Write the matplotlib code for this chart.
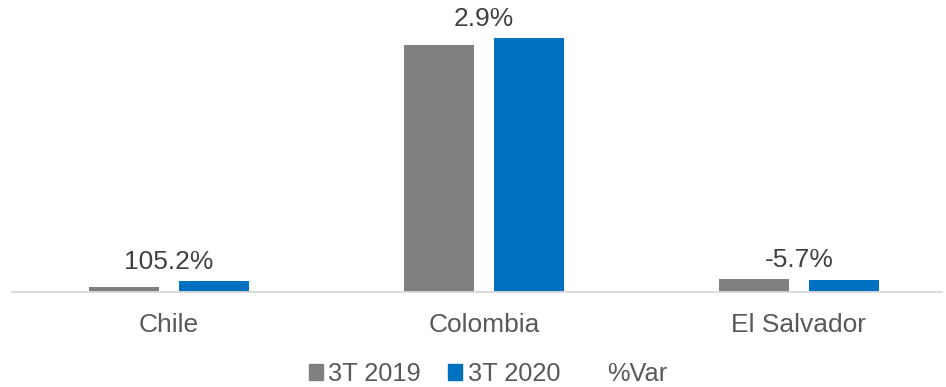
import matplotlib.pyplot as plt
from matplotlib.patches import Patch
from matplotlib.lines import Line2D
import numpy as np

plt.rcParams['font.family'] = ['Liberation Sans', 'DejaVu Sans']

countries = ["Chile", "Colombia", "El Salvador"]
q3_2019 = [5.0, 246.5, 12.4]
q3_2020 = [10.3, 253.6, 11.7]
pct_var = ["105.2%", "2.9%", "-5.7%"]

GRAY = "#808080"
BLUE = "#0070C0"
TXT = "#595959"
FS = 19.0

fig = plt.figure(figsize=(9.46, 3.87), dpi=100)
ax = fig.add_axes([12 / 946, 1 - 291.7 / 387, 930 / 946, 291.7 / 387])

x = np.arange(len(countries))
w = 0.222
off = 0.143
ax.bar(x - off, q3_2019, w, color=GRAY, label="3T 2019")
ax.bar(x + off, q3_2020, w, color=BLUE, label="3T 2020")

# %Var labels above each pair
for i, lab in enumerate(pct_var):
    top = max(q3_2019[i], q3_2020[i])
    ax.annotate(lab, (x[i], top), xytext=(0, 5), textcoords="offset points",
                ha="center", va="bottom", fontsize=FS, color="#404040")

ax.set_xlim(-0.498, 2.454)
ax.set_ylim(0, 291.7)
ax.set_xticks(x)
ax.set_xticklabels(countries, fontsize=FS, color=TXT)
ax.tick_params(axis="x", length=0, pad=15)
ax.set_yticks([])
for s in ["top", "left", "right"]:
    ax.spines[s].set_visible(False)
ax.spines["bottom"].set_color("#D9D9D9")
ax.spines["bottom"].set_linewidth(1.3)

handles = [Patch(color=GRAY), Patch(color=BLUE),
           Line2D([], [], linestyle="none")]
fig.legend(handles, ["3T 2019", "3T 2020", "%Var"], loc="center",
           bbox_to_anchor=(488 / 946, 1 - 374 / 387), ncol=3, frameon=False,
           fontsize=18.3, labelcolor=TXT, handlelength=0.55, handleheight=0.55,
           handletextpad=0.2, columnspacing=1.1, borderaxespad=0)

fig.savefig("out.png", dpi=100)
